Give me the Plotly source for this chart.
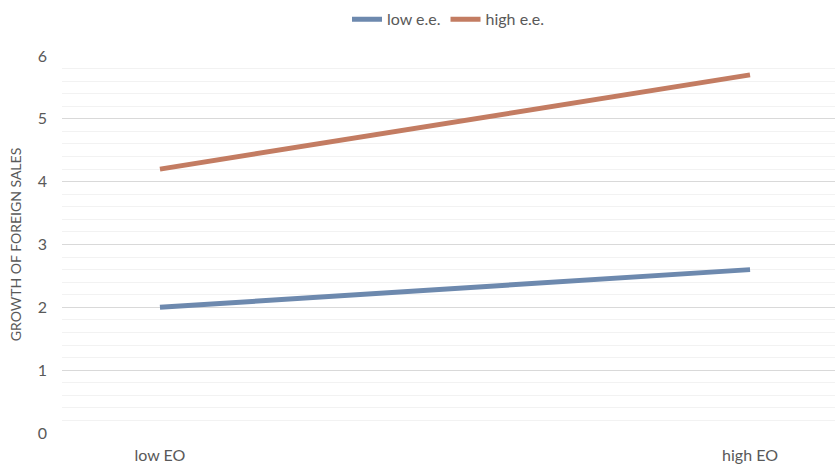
import plotly.graph_objects as go

categories = ["low EO", "high EO"]
low_ee = [2.0, 2.6]
high_ee = [4.2, 5.7]
series_names = ["low e.e.", "high e.e."]
y_ticks = [0, 1, 2, 3, 4, 5, 6]

blue = "#6D89AE"
orange = "#C37C62"
font_family = "Lato, 'Liberation Sans', sans-serif"
grey = "#595959"

fig = go.Figure()
fig.add_trace(go.Scatter(x=[0, 1], y=low_ee, mode="lines", name=series_names[0],
                         line=dict(color=blue, width=5)))
fig.add_trace(go.Scatter(x=[0, 1], y=high_ee, mode="lines", name=series_names[1],
                         line=dict(color=orange, width=5)))

fig.update_layout(
    width=835, height=464,
    margin=dict(l=62, r=0, t=56, b=28),
    paper_bgcolor="white", plot_bgcolor="white",
    font=dict(family=font_family, color=grey, size=16),
    showlegend=True,
    legend=dict(orientation="h", x=0.5, xanchor="center", y=0.995, yanchor="top",
                yref="container", font=dict(size=16, color=grey),
                itemwidth=30, tracegroupgap=0, bgcolor="rgba(0,0,0,0)"),
    xaxis=dict(
        tickmode="array", tickvals=[0, 1], ticktext=categories,
        range=[-0.166, 1.144], showgrid=False, zeroline=False, showline=False,
        ticks="", ticklabelstandoff=11, tickfont=dict(size=16, color=grey),
    ),
    yaxis=dict(
        range=[0, 6], tickvals=y_ticks, showgrid=True, gridcolor="#D9D9D9", gridwidth=1.3,
        zeroline=False, showline=False, ticks="", ticklabelstandoff=14,
        tickfont=dict(size=16, color=grey),
        minor=dict(dtick=0.2, showgrid=True, gridcolor="#F2F2F2", gridwidth=1.3),
        title=dict(text="GROWTH OF FOREIGN SALES", font=dict(size=14, color=grey), standoff=12),
    ),
)

fig.write_html("out.html")
